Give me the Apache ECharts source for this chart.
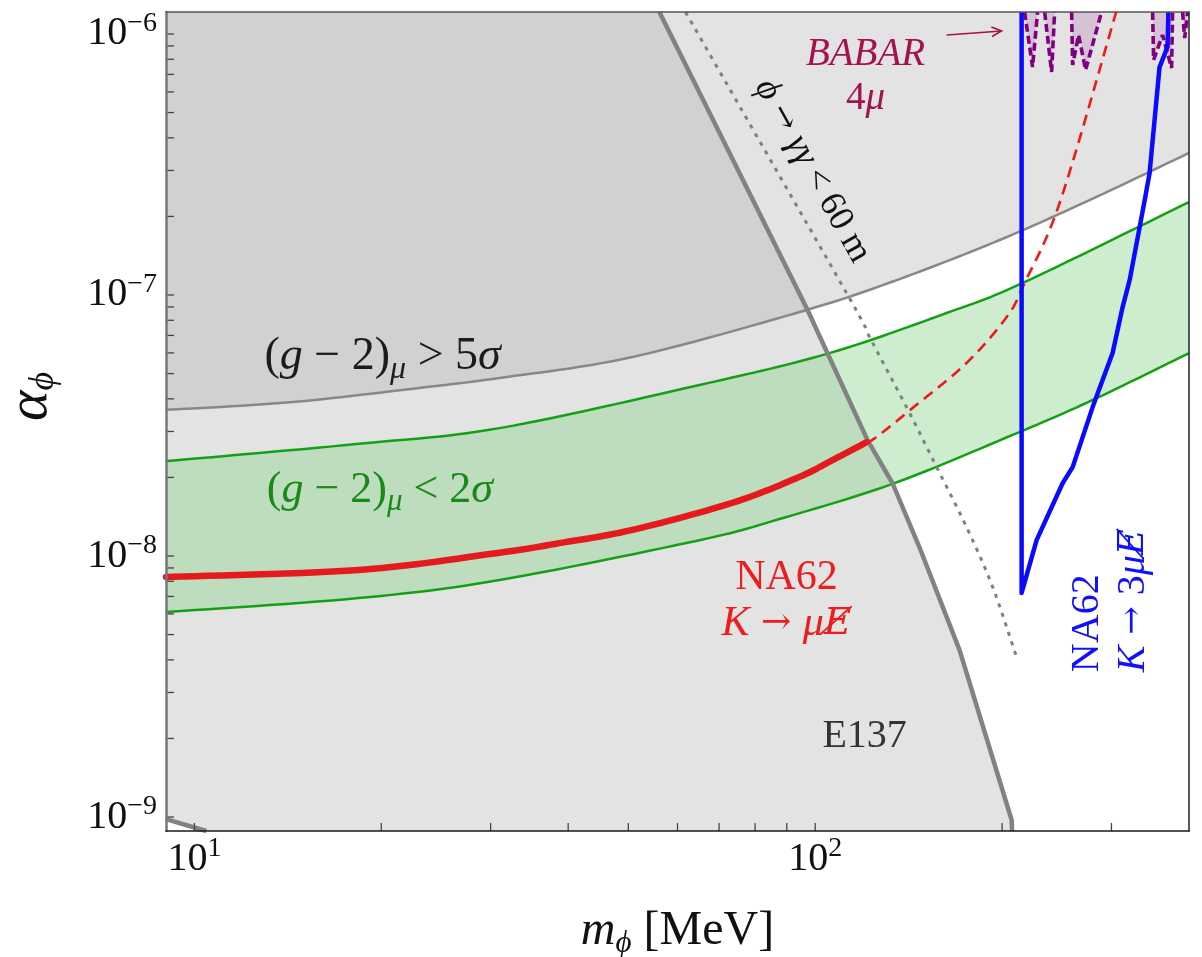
<!DOCTYPE html>
<html>
<head>
<meta charset="utf-8">
<title>Scalar coupling limits</title>
<script src="https://cdn.jsdelivr.net/npm/echarts@6/dist/echarts.min.js"></script>
<style>
  html, body { margin: 0; padding: 0; background: #fff; }
  #chart { width: 1202px; height: 957px; }
</style>
</head>
<body>
<div id="chart"></div>
<script>
// ---- axis ranges ----
const massRange = [9, 400];              // m_phi [MeV]
const alphaRange = [8.84e-10, 1.214e-6]; // alpha_phi

// ---- (g-2)_mu > 5 sigma boundary (excluded above) ----
const gm2ExclMass  = [9, 14.4, 23.7, 31.0, 50.8, 96.8, 136.7, 198.2, 276.6, 400];
const gm2ExclAlpha = [3.63e-8, 3.89e-8, 4.44e-8, 4.81e-8, 5.79e-8, 8.76e-8, 1.151e-7, 1.624e-7, 2.31e-7, 3.50e-7];

// ---- (g-2)_mu < 2 sigma band ----
const bandUpperMass  = [9, 18.4, 31.0, 65.1, 105.4, 162.8, 215.8, 400];
const bandUpperAlpha = [2.31e-8, 2.69e-8, 3.09e-8, 4.52e-8, 5.99e-8, 8.53e-8, 1.112e-7, 2.27e-7];
const bandLowerMass  = [9, 18.4, 31.0, 65.1, 87.6, 133.2, 207.9, 279.8, 400];
const bandLowerAlpha = [6.10e-9, 6.90e-9, 8.09e-9, 1.15e-8, 1.386e-8, 1.89e-8, 2.91e-8, 3.96e-8, 5.99e-8];

// ---- E137 beam dump ----
const e137UpperMass  = [56.1, 97.2, 121.4, 133.2, 147.2, 170.8, 207.2, 207.5];
const e137UpperAlpha = [1.214e-6, 8.76e-8, 2.78e-8, 1.90e-8, 1.08e-8, 4.36e-9, 9.74e-10, 8.84e-10];
const e137LowerMass  = [9, 10.45];
const e137LowerAlpha = [9.82e-10, 8.84e-10];

// ---- phi -> gamma gamma decay length < 60 m ----
const decayMass  = [61.8, 112.3, 122.3, 141.9, 156.9, 175.3, 193.1, 211.0];
const decayAlpha = [1.214e-6, 1.018e-7, 6.90e-8, 3.53e-8, 2.19e-8, 1.29e-8, 7.61e-9, 4.10e-9];

// ---- NA62 K -> mu + invisible ----
const na62Mass  = [9, 18.4, 31.0, 38.7, 50.8, 73.6, 94.3, 106.6, 121.0];
const na62Alpha = [8.31e-9, 8.84e-9, 1.03e-8, 1.12e-8, 1.26e-8, 1.60e-8, 2.01e-8, 2.33e-8, 2.73e-8];
const na62ProjMass  = [121.0, 125.6, 143.5, 175.3, 203.4, 217.4, 248.5, 305.3];
const na62ProjAlpha = [2.73e-8, 2.86e-8, 3.69e-8, 5.49e-8, 8.23e-8, 1.112e-7, 2.31e-7, 1.214e-6];

// ---- NA62 K -> 3 mu + invisible ----
const na62ThreeMuMass  = [215, 215, 227.3, 250.3, 259.8, 279.8, 301.3, 312.7, 321.0, 339.4, 345.6, 358.6, 369.4, 370.6];
const na62ThreeMuAlpha = [1.214e-6, 7.22e-9, 1.15e-8, 1.90e-8, 2.19e-8, 3.72e-8, 5.99e-8, 8.99e-8, 1.141e-7, 2.31e-7, 2.93e-7, 7.47e-7, 8.92e-7, 1.214e-6];

// ---- BABAR 4 mu exclusion spikes ----
const babarSpikeA = [[217.4, 1.214e-6], [223.9, 7.47e-7], [228.1, 1.214e-6]];
const babarSpikeB = [[234.2, 1.214e-6], [240.3, 7.15e-7], [243.0, 1.214e-6]];
const babarSpikeC = [[258.8, 1.214e-6], [259.8, 7.61e-7], [265.6, 9.91e-7], [272.6, 7.28e-7], [289.2, 1.214e-6]];
const babarSpikeD = [[349.5, 1.214e-6], [350.8, 7.95e-7], [362.6, 9.91e-7], [375.0, 7.41e-7], [376.4, 1.214e-6]];
const babarSpikeE = [[390.6, 1.214e-6], [393.6, 9.65e-7], [398.0, 1.214e-6]];
const babarArrow  = [[162.8, 9.91e-7], [199.6, 1.027e-6]];

// ---- tick positions ----
const xTickValues = [10, 20, 30, 40, 50, 60, 70, 80, 90, 100, 200, 300];
const yTickMantissas = [1, 2, 3, 4, 5, 6, 7, 8, 9];
const yTickDecades = [-9, -8, -7, -6];
const yTickValues = [];
yTickDecades.forEach(d => yTickMantissas.forEach(m => {
  const v = m * Math.pow(10, d);
  if (v >= alphaRange[0] && v <= alphaRange[1]) yTickValues.push(v);
}));

const SERIF = '"Liberation Serif", "DejaVu Serif", serif';
const SERIF_ALT = '"DejaVu Serif", serif';

const zip = (xs, ys) => xs.map((x, i) => [x, ys[i]]);

// Catmull-Rom spline through pixel points, sampled into a dense polyline
function smoothPixels(pts, steps) {
  const out = [];
  const n = pts.length;
  for (let i = 0; i < n - 1; i++) {
    const p0 = pts[Math.max(i - 1, 0)], p1 = pts[i], p2 = pts[i + 1], p3 = pts[Math.min(i + 2, n - 1)];
    const c1 = [p1[0] + (p2[0] - p0[0]) / 6, p1[1] + (p2[1] - p0[1]) / 6];
    const c2 = [p2[0] - (p3[0] - p1[0]) / 6, p2[1] - (p3[1] - p1[1]) / 6];
    for (let k = 0; k < steps; k++) {
      const t = k / steps, u = 1 - t;
      const a = u * u * u, b = 3 * u * u * t, c = 3 * u * t * t, d = t * t * t;
      out.push([a * p1[0] + b * c1[0] + c * c2[0] + d * p2[0],
                a * p1[1] + b * c1[1] + c * c2[1] + d * p2[1]]);
    }
  }
  out.push(pts[n - 1]);
  return out;
}
const toPixels = (api, pts) => pts.map(p => api.coord(p));
const smoothOf = (api, pts) => smoothPixels(toPixels(api, pts), 14);

// polygon whose outline is produced from the axes by `build(api)`
function regionSeries(anchor, build, fill, z) {
  return {
    type: 'custom', coordinateSystem: 'cartesian2d', z, silent: true,
    data: [anchor],
    renderItem: (params, api) => ({
      type: 'polygon', shape: { points: build(api) }, style: { fill }
    })
  };
}

// smooth curve through data points
function smoothCurveSeries(points, style, z) {
  return {
    type: 'custom', coordinateSystem: 'cartesian2d', z, silent: true,
    data: [points[0]],
    renderItem: (params, api) => ({
      type: 'polyline', shape: { points: smoothOf(api, points) },
      style: Object.assign({ fill: null, lineJoin: 'round' }, style)
    })
  };
}

// straight-segment curve through data points
function curveSeries(points, lineStyle, z) {
  return { type: 'line', data: points, symbol: 'none', z, silent: true, lineStyle, clip: true };
}

// ---- fill regions ----
const gm2ExclPts = zip(gm2ExclMass, gm2ExclAlpha);
const bandUpperPts = zip(bandUpperMass, bandUpperAlpha);
const bandLowerPts = zip(bandLowerMass, bandLowerAlpha);
const e137Poly = [[e137LowerMass[0], e137LowerAlpha[0]], [massRange[0], alphaRange[1]]]
  .concat(zip(e137UpperMass, e137UpperAlpha))
  .concat(zip(e137LowerMass, e137LowerAlpha).slice(1).reverse());

const GRAY_LAYER = 'rgba(177,177,177,0.357)';
const GREEN_LAYER = 'rgba(141,211,141,0.43)';

// ---- text labels placed at data coordinates ----
function mathRich(size, color, lh) {
  const sub = Math.round(size * 0.7);
  return {
    n: { fontFamily: SERIF, fontSize: size, fontStyle: 'normal', fill: color, lineHeight: lh, verticalAlign: 'middle' },
    i: { fontFamily: SERIF, fontSize: size, fontStyle: 'italic', fill: color, lineHeight: lh, verticalAlign: 'middle' },
    r: { fontFamily: SERIF_ALT, fontSize: Math.round(size * 0.85), fontStyle: 'normal', fill: color, lineHeight: lh, verticalAlign: 'middle' },
    e: { fontFamily: SERIF_ALT, fontSize: Math.round(size * 0.9), fontStyle: 'italic', fill: color, lineHeight: lh, verticalAlign: 'middle' },
    s: { fontFamily: SERIF, fontSize: sub, fontStyle: 'italic', fill: color, lineHeight: sub, verticalAlign: 'bottom' }
  };
}

const labels = [
  { at: [20.1, 5.79e-8], text: '{n|(}{i|g}{n| − 2)}{s|μ}{n| > 5}{i|σ}', size: 46, lh: 57, color: '#1c1c1c' },
  { at: [19.9, 1.79e-8], text: '{n|(}{i|g}{n| − 2)}{s|μ}{n| < 2}{i|σ}', size: 44, lh: 55, color: '#178a17' },
  { at: [89.9, 6.72e-9], text: '{n|NA62}\n{i|K}{r| → }{i|μ}{e|E\u0338}', size: 42, lh: 46, color: '#ee1c1c' },
  { at: [120.1, 2.03e-9], text: '{n|E137}', size: 40, lh: 44, color: '#333333' },
  { at: [120.5, 6.84e-7], text: '{i|BABAR}\n{n|4}{i|μ}', size: 39, lh: 44, color: '#a3124e' },
  { at: [99.0, 2.99e-7], text: '{i|ϕ}{r| → }{i|γγ}{n| < 60 m}', size: 36, lh: 40, color: '#111111',
    rotation: -60.9 * Math.PI / 180 },
  { at: [299.0, 3.59e-9], text: '{n|NA62}\n{i|K}{r| → }{n|3}{i|μ}{e|E\u0338}', size: 40, lh: 46, color: '#1010ff',
    rotation: Math.PI / 2, align: 'left' }
];

const labelSeries = {
  type: 'custom', coordinateSystem: 'cartesian2d', z: 20, silent: true,
  data: labels.map(l => l.at),
  renderItem: (params, api) => {
    const l = labels[params.dataIndex];
    const p = api.coord(l.at);
    return {
      type: 'text', x: p[0], y: p[1], rotation: l.rotation || 0,
      style: {
        text: l.text, rich: mathRich(l.size, l.color, l.lh),
        fill: l.color, fontFamily: SERIF, fontSize: l.size,
        align: l.align || 'center', verticalAlign: 'middle'
      }
    };
  }
};

// ---- BABAR pointer arrow ----
const arrowSeries = {
  type: 'custom', coordinateSystem: 'cartesian2d', z: 20, silent: true,
  data: [babarArrow[0]],
  renderItem: (params, api) => {
    const a = api.coord(babarArrow[0]);
    const b = api.coord(babarArrow[1]);
    const ang = Math.atan2(b[1] - a[1], b[0] - a[0]);
    const hl = 11, hw = 0.45;
    const h1 = [b[0] - hl * Math.cos(ang - hw), b[1] - hl * Math.sin(ang - hw)];
    const h2 = [b[0] - hl * Math.cos(ang + hw), b[1] - hl * Math.sin(ang + hw)];
    const st = { stroke: '#a3124e', lineWidth: 1.6, fill: null };
    return {
      type: 'group', children: [
        { type: 'polyline', shape: { points: [a, b] }, style: st },
        { type: 'polyline', shape: { points: [h1, b, h2] }, style: st }
      ]
    };
  }
};

// ---- ticks drawn inside the frame ----
const TICK_LEN = 8;
const xTickSeries = {
  type: 'custom', coordinateSystem: 'cartesian2d', z: 30, silent: true,
  data: xTickValues.map(v => [v, alphaRange[0]]),
  renderItem: (params, api) => {
    const p = api.coord([api.value(0), alphaRange[0]]);
    return { type: 'line', shape: { x1: p[0], y1: p[1], x2: p[0], y2: p[1] - TICK_LEN },
             style: { stroke: '#444', lineWidth: 1.3 } };
  }
};
const yTickSeries = {
  type: 'custom', coordinateSystem: 'cartesian2d', z: 30, silent: true,
  data: yTickValues.map(v => [massRange[0], v]),
  renderItem: (params, api) => {
    const p = api.coord([massRange[0], api.value(1)]);
    return { type: 'line', shape: { x1: p[0], y1: p[1], x2: p[0] + TICK_LEN, y2: p[1] },
             style: { stroke: '#444', lineWidth: 1.3 } };
  }
};

function powLabel(v) {
  const lg = Math.log10(v);
  const e = Math.round(lg);
  if (Math.abs(lg - e) > 1e-6) return '';
  return '{b|10}{s|' + (e < 0 ? '−' + (-e) : String(e)) + '}';
}
const tickRich = {
  b: { fontFamily: SERIF, fontSize: 40, lineHeight: 48, verticalAlign: 'middle', color: '#111' },
  s: { fontFamily: SERIF, fontSize: 28, lineHeight: 28, verticalAlign: 'top', color: '#111' }
};

const babarStyle = { color: '#800080', width: 3.6, type: [8, 4] };
const babarArea = { color: 'rgba(128,0,128,0.2)', origin: 'end' };

const option = {
  animation: false,
  backgroundColor: '#ffffff',
  grid: { left: 166, right: 13, top: 12, bottom: 126, containLabel: false, outerBoundsMode: 'none' },
  xAxis: [
    {
      type: 'log', logBase: 10, min: massRange[0], max: massRange[1], z: 40,
      axisLine: { show: true, lineStyle: { color: '#1a1a1a', width: 1.5 } },
      axisTick: { show: false }, minorTick: { show: false }, splitLine: { show: false },
      axisLabel: { formatter: powLabel, margin: 4, rich: tickRich, color: '#111' },
      name: '{i|m}{s|ϕ}{n| [MeV]}', nameLocation: 'middle', nameGap: 72,
      nameTextStyle: {
        color: '#111',
        rich: {
          i: { fontFamily: SERIF, fontSize: 48, fontStyle: 'italic', lineHeight: 56, verticalAlign: 'middle', color: '#111' },
          s: { fontFamily: SERIF, fontSize: 31, fontStyle: 'italic', lineHeight: 31, verticalAlign: 'bottom', color: '#111' },
          n: { fontFamily: SERIF, fontSize: 48, lineHeight: 56, verticalAlign: 'middle', color: '#111' }
        }
      }
    },
    {
      type: 'log', logBase: 10, min: massRange[0], max: massRange[1], position: 'top', z: 40,
      axisLine: { show: true, lineStyle: { color: '#555', width: 1.5 } },
      axisTick: { show: false }, axisLabel: { show: false }, splitLine: { show: false }
    }
  ],
  yAxis: [
    {
      type: 'log', logBase: 10, min: alphaRange[0], max: alphaRange[1], z: 40,
      axisLine: { show: true, lineStyle: { color: '#777', width: 2.5 } },
      axisTick: { show: false }, minorTick: { show: false }, splitLine: { show: false },
      axisLabel: { formatter: powLabel, margin: 9, rich: tickRich, color: '#111' },
      name: '{a|α}{s|ϕ}', nameLocation: 'middle', nameGap: 104,
      nameTextStyle: {
        color: '#111', padding: [0, 0, 0, 50],
        rich: {
          a: { fontFamily: SERIF, fontSize: 58, fontStyle: 'italic', lineHeight: 62, verticalAlign: 'middle', color: '#111' },
          s: { fontFamily: SERIF, fontSize: 36, fontStyle: 'italic', lineHeight: 36, verticalAlign: 'bottom', color: '#111' }
        }
      }
    },
    {
      type: 'log', logBase: 10, min: alphaRange[0], max: alphaRange[1], position: 'right', z: 40,
      axisLine: { show: true, lineStyle: { color: '#222', width: 1.5 } },
      axisTick: { show: false }, axisLabel: { show: false }, splitLine: { show: false }
    }
  ],
  series: [
    // excluded / preferred regions
    regionSeries(gm2ExclPts[0], api => smoothOf(api, gm2ExclPts).concat(
      toPixels(api, [[massRange[1], alphaRange[1]], [massRange[0], alphaRange[1]]])), GRAY_LAYER, 1),
    regionSeries(e137Poly[0], api => toPixels(api, e137Poly), GRAY_LAYER, 1),
    regionSeries(bandUpperPts[0], api => smoothOf(api, bandUpperPts).concat(
      smoothOf(api, bandLowerPts).reverse()), GREEN_LAYER, 2),
    // BABAR 4 mu
    Object.assign(curveSeries(babarSpikeA, babarStyle, 6), { areaStyle: babarArea }),
    Object.assign(curveSeries(babarSpikeB, babarStyle, 6), { areaStyle: babarArea }),
    Object.assign(curveSeries(babarSpikeC, babarStyle, 6), { areaStyle: babarArea }),
    Object.assign(curveSeries(babarSpikeD, babarStyle, 6), { areaStyle: babarArea }),
    Object.assign(curveSeries(babarSpikeE, babarStyle, 6), { areaStyle: babarArea }),
    // boundary curves
    smoothCurveSeries(bandUpperPts, { stroke: '#14a014', lineWidth: 2.5 }, 4),
    smoothCurveSeries(bandLowerPts, { stroke: '#14a014', lineWidth: 2.5 }, 4),
    smoothCurveSeries(gm2ExclPts, { stroke: '#888888', lineWidth: 2.5 }, 4),
    curveSeries(zip(e137UpperMass, e137UpperAlpha), { color: '#828282', width: 4.5, join: 'round' }, 5),
    curveSeries(zip(e137LowerMass, e137LowerAlpha), { color: '#828282', width: 4.5 }, 5),
    smoothCurveSeries(zip(decayMass, decayAlpha), { stroke: '#808080', lineWidth: 3, lineDash: [4, 6] }, 5),
    smoothCurveSeries(zip(na62Mass, na62Alpha), { stroke: '#e41a1c', lineWidth: 6.5, lineCap: 'round' }, 7),
    smoothCurveSeries(zip(na62ProjMass, na62ProjAlpha), { stroke: '#f01818', lineWidth: 2.6, lineDash: [11, 7] }, 7),
    curveSeries(zip(na62ThreeMuMass, na62ThreeMuAlpha), { color: '#0a0aff', width: 4.5, join: 'round' }, 8),
    arrowSeries,
    labelSeries,
    xTickSeries,
    yTickSeries
  ]
};

const chart = echarts.init(document.getElementById('chart'), null, { renderer: 'canvas' });
chart.setOption(option);
</script>
</body>
</html>
